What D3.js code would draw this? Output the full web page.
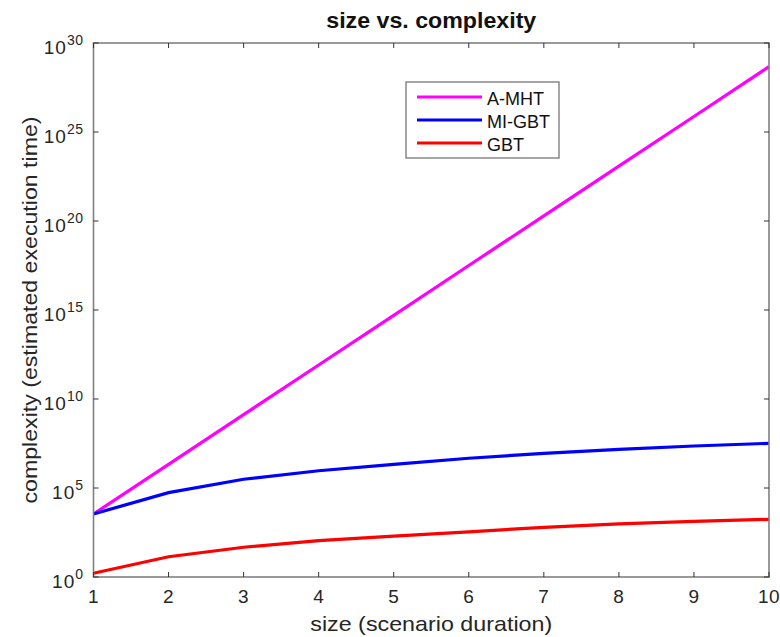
<!DOCTYPE html>
<html>
<head>
<script src="https://cdnjs.cloudflare.com/ajax/libs/d3/7.8.5/d3.min.js"></script>
<style>
  body { margin: 0; background: #fff; }
  text { font-family: "Liberation Sans", Arial, sans-serif; }
</style>
</head>
<body>
<script>
// x values (size) and log10 of complexity
const sizes = [1, 2, 3, 4, 5, 6, 7, 8, 9, 10];
const amhtLog = [3.54, 6.33, 9.12, 11.91, 14.70, 17.50, 20.29, 23.08, 25.87, 28.67];
const migbtLog = [3.54, 4.74, 5.49, 5.97, 6.33, 6.67, 6.95, 7.17, 7.36, 7.51];
const gbtLog = [0.21, 1.14, 1.67, 2.04, 2.30, 2.54, 2.79, 2.98, 3.12, 3.24];
const xTicks = [1, 2, 3, 4, 5, 6, 7, 8, 9, 10];
const yExps = [0, 5, 10, 15, 20, 25, 30];

const series = [
  {name: "A-MHT", color: "#ff00ff", vals: amhtLog},
  {name: "MI-GBT", color: "#0000ff", vals: migbtLog},
  {name: "GBT", color: "#ff0000", vals: gbtLog}
];

const w = 780, h = 637;
const m = {left: 93.5, right: 11, top: 43, bottom: 60};
const axisCol = "#808080";

const svg = d3.select("body").append("svg")
  .attr("width", w).attr("height", h);

const x = d3.scaleLinear().domain([1, 10]).range([m.left, w - m.right]);
const y = d3.scaleLog().domain([1, 1e30]).range([h - m.bottom, m.top]);

// lines
const line = d3.line()
  .x((d, i) => x(sizes[i]))
  .y(d => y(Math.pow(10, d)));

svg.selectAll(".series")
  .data(series)
  .enter()
  .append("path")
  .attr("d", d => line(d.vals))
  .attr("fill", "none")
  .attr("stroke", d => d.color)
  .attr("stroke-width", 3.2);

// box
svg.append("rect")
  .attr("x", x(1)).attr("y", y(1e30))
  .attr("width", x(10) - x(1)).attr("height", y(1) - y(1e30))
  .attr("fill", "none").attr("stroke", axisCol).attr("stroke-width", 1.6);

// ticks (inward, all four sides)
const tl = 5;
xTicks.forEach(t => {
  svg.append("line").attr("x1", x(t)).attr("x2", x(t))
    .attr("y1", y(1)).attr("y2", y(1) - tl).attr("stroke", "#333");
  svg.append("line").attr("x1", x(t)).attr("x2", x(t))
    .attr("y1", y(1e30)).attr("y2", y(1e30) + tl).attr("stroke", "#333");
  svg.append("text").attr("x", x(t)).attr("y", y(1) + 26)
    .attr("text-anchor", "middle").attr("font-size", 19).attr("letter-spacing", 0.5)
    .attr("fill", "#262626")
    .text(t);
});

yExps.forEach(e => {
  const yy = y(Math.pow(10, e));
  svg.append("line").attr("x1", x(1)).attr("x2", x(1) + tl)
    .attr("y1", yy).attr("y2", yy).attr("stroke", "#333");
  svg.append("line").attr("x1", x(10)).attr("x2", x(10) - tl)
    .attr("y1", yy).attr("y2", yy).attr("stroke", "#333");
  const lab = svg.append("text").attr("x", x(1) - 10).attr("y", yy + 11)
    .attr("text-anchor", "end").attr("font-size", 19).attr("letter-spacing", 1)
    .attr("fill", "#262626");
  lab.append("tspan").text("10");
  lab.append("tspan").attr("dy", -9).attr("font-size", 14).attr("letter-spacing", 0.5).text(e);
});

// title and axis labels
svg.append("text").attr("x", (x(1) + x(10)) / 2).attr("y", 28)
  .attr("text-anchor", "middle").attr("font-size", 22).attr("font-weight", "bold")
  .attr("textLength", 210).attr("lengthAdjust", "spacingAndGlyphs")
  .attr("fill", "#111").text("size vs. complexity");

svg.append("text").attr("x", (x(1) + x(10)) / 2).attr("y", 631)
  .attr("text-anchor", "middle").attr("font-size", 21).attr("fill", "#262626")
  .attr("textLength", 242).attr("lengthAdjust", "spacingAndGlyphs")
  .text("size (scenario duration)");

svg.append("text")
  .attr("transform", `translate(37,${(y(1) + y(1e30)) / 2}) rotate(-90)`)
  .attr("text-anchor", "middle").attr("font-size", 21).attr("fill", "#262626")
  .attr("textLength", 387).attr("lengthAdjust", "spacingAndGlyphs")
  .text("complexity (estimated execution time)");

// legend
const lg = svg.append("g").attr("transform", "translate(406,82)");
lg.append("rect").attr("width", 153).attr("height", 76)
  .attr("fill", "#fff").attr("stroke", axisCol).attr("stroke-width", 1.4);
series.forEach((s, i) => {
  const ly = 15 + i * 23;
  lg.append("line").attr("x1", 11).attr("x2", 76).attr("y1", ly).attr("y2", ly)
    .attr("stroke", s.color).attr("stroke-width", 3.2);
  lg.append("text").attr("x", 81).attr("y", ly + 7.5)
    .attr("font-size", 18).attr("fill", "#111").text(s.name);
});
</script>
</body>
</html>
